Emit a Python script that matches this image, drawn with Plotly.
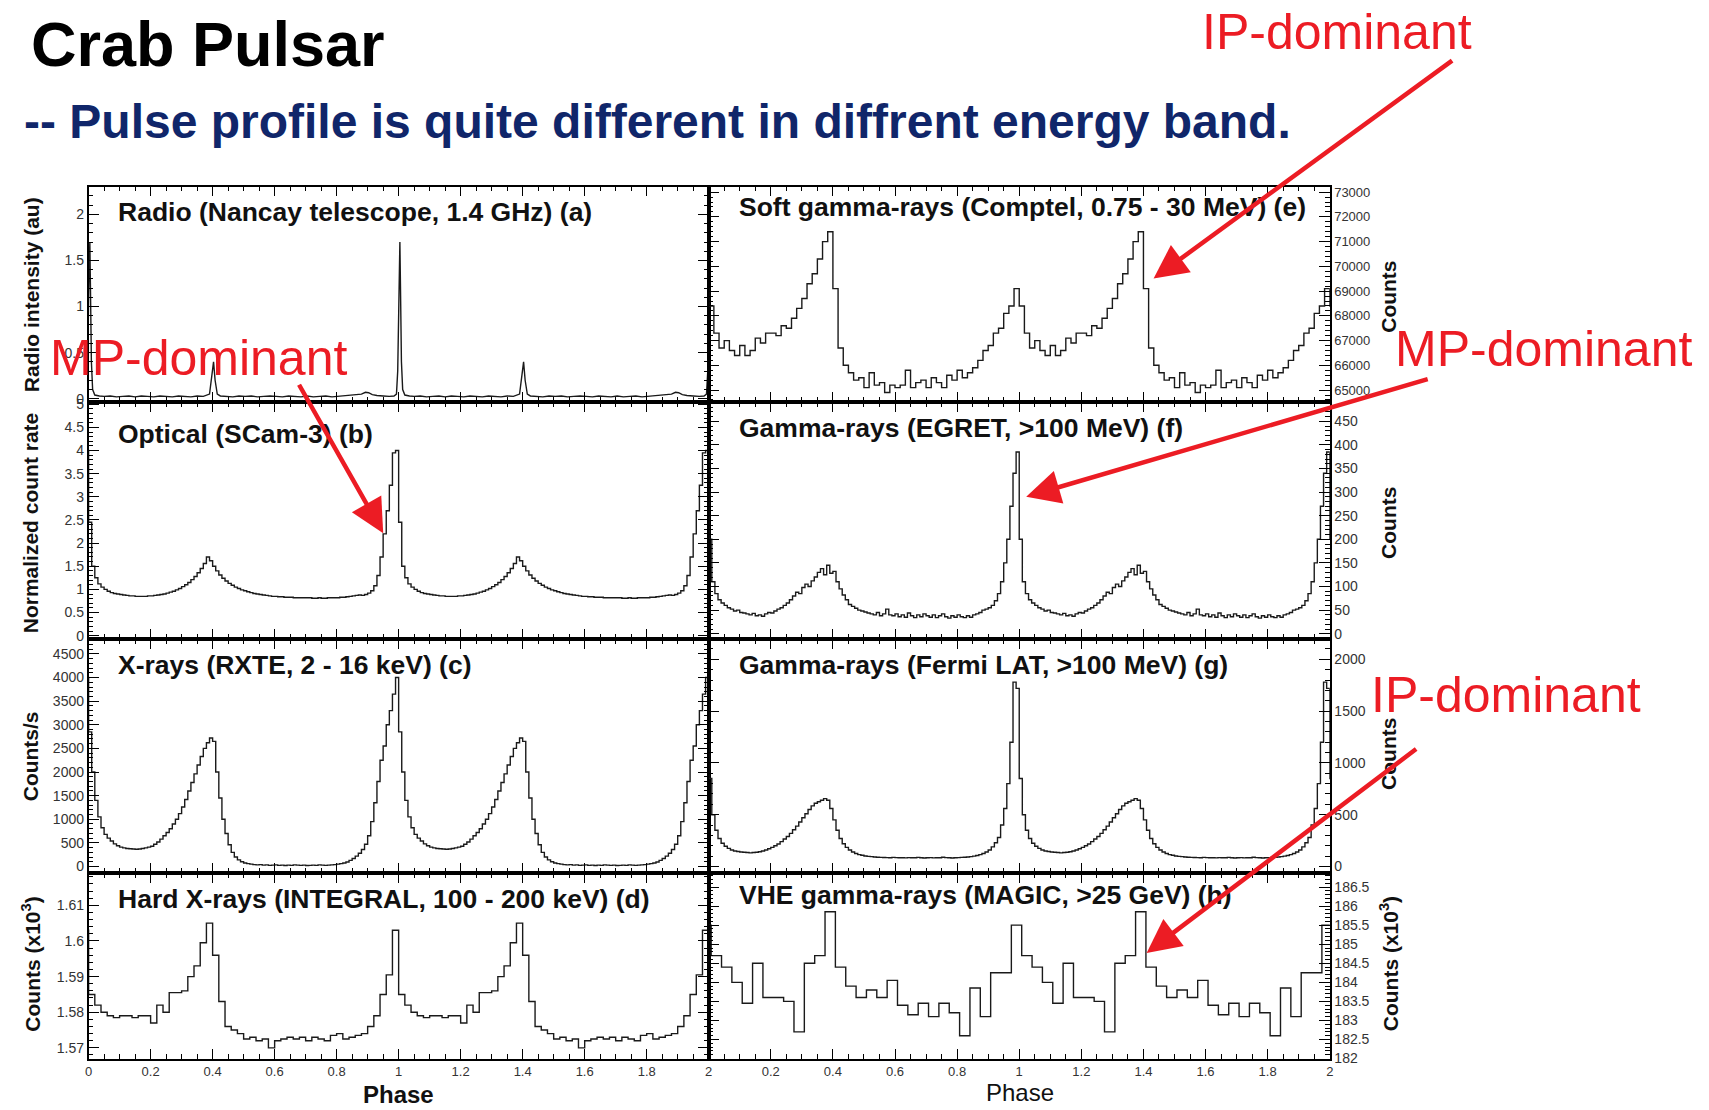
import plotly.graph_objects as go

# ---------------- data (one rotation, repeated for the two displayed cycles) ----------------
radio_phase = [0.000, 0.002, 0.004, 0.006, 0.009, 0.013, 0.020, 0.035,
               0.050, 0.070, 0.090, 0.110, 0.130, 0.150, 0.170, 0.190,
               0.210, 0.230, 0.250, 0.270, 0.290, 0.310, 0.330, 0.350,
               0.370, 0.390, 0.398, 0.403, 0.408, 0.415, 0.425, 0.445,
               0.465, 0.485, 0.505, 0.525, 0.545, 0.565, 0.585, 0.605,
               0.625, 0.645, 0.665, 0.685, 0.705, 0.725, 0.745, 0.765,
               0.785, 0.805, 0.825, 0.845, 0.865, 0.880, 0.893, 0.903,
               0.915, 0.930, 0.950, 0.970, 0.985, 0.993, 0.997]
radio_value = [1.10, 1.62, 1.70, 1.20, 0.40, 0.10, 0.04, 0.03,
               0.025, 0.03, 0.02, 0.025, 0.03, 0.02, 0.03, 0.025,
               0.02, 0.03, 0.025, 0.02, 0.03, 0.025, 0.02, 0.03,
               0.025, 0.05, 0.30, 0.40, 0.20, 0.05, 0.03, 0.025,
               0.02, 0.03, 0.025, 0.03, 0.02, 0.025, 0.03, 0.025,
               0.02, 0.03, 0.025, 0.02, 0.03, 0.02, 0.025, 0.03,
               0.02, 0.025, 0.03, 0.035, 0.04, 0.05, 0.07, 0.065,
               0.045, 0.035, 0.03, 0.025, 0.03, 0.05, 0.30]

optical_counts = [
    2.45, 1.50, 1.25, 1.12, 1.05, 1.00, 0.96, 0.93, 0.91, 0.90,
    0.89, 0.88, 0.87, 0.86, 0.86, 0.85, 0.85, 0.85, 0.85, 0.86,
    0.86, 0.87, 0.88, 0.89, 0.90, 0.92, 0.94, 0.96, 0.99, 1.02,
    1.06, 1.10, 1.15, 1.21, 1.28, 1.36, 1.45, 1.56, 1.70, 1.62,
    1.50, 1.40, 1.31, 1.24, 1.18, 1.13, 1.09, 1.05, 1.02, 0.99,
    0.97, 0.95, 0.93, 0.91, 0.90, 0.89, 0.88, 0.87, 0.86, 0.85,
    0.85, 0.84, 0.84, 0.83, 0.83, 0.83, 0.82, 0.82, 0.82, 0.82,
    0.82, 0.82, 0.81, 0.81, 0.82, 0.81, 0.81, 0.82, 0.82, 0.82,
    0.82, 0.83, 0.83, 0.84, 0.85, 0.86, 0.87, 0.88, 0.87, 0.89,
    0.92, 0.97, 1.08, 1.30, 1.70, 2.20, 2.70, 3.25, 3.95, 4.00]

xray_counts = [
    2850, 2000, 1400, 1050, 820, 680, 600, 540, 480, 440,
    410, 395, 380, 375, 370, 365, 370, 380, 395, 410,
    430, 470, 520, 580, 650, 720, 800, 900, 1000, 1120,
    1260, 1420, 1600, 1780, 1960, 2150, 2330, 2500, 2620, 2720,
    2650, 2000, 1450, 1000, 700, 460, 300, 200, 140, 100,
    75, 60, 50, 40, 35, 40, 30, 35, 25, 30,
    35, 25, 30, 20, 30, 25, 35, 30, 25, 30,
    20, 25, 30, 25, 35, 30, 25, 30, 35, 40,
    50, 60, 75, 95, 130, 170, 220, 280, 360, 470,
    650, 950, 1350, 1800, 2250, 2550, 3000, 3300, 3650, 4000]

integral_counts = [
    1.585, 1.582, 1.580, 1.579, 1.5785, 1.579, 1.579, 1.5785, 1.579, 1.579,
    1.577, 1.582, 1.580, 1.5855, 1.5855, 1.586, 1.590, 1.593, 1.5995, 1.605,
    1.596, 1.583, 1.576, 1.575, 1.574, 1.5725, 1.573, 1.572, 1.5725, 1.570,
    1.572, 1.5725, 1.573, 1.5725, 1.573, 1.572, 1.573, 1.5725, 1.572, 1.5735,
    1.574, 1.5725, 1.573, 1.5735, 1.574, 1.576, 1.579, 1.585, 1.5905, 1.603]

comptel_counts = [
    68400, 67300, 66700, 67000, 66600, 66400, 66800, 66400, 66600, 67100,
    66900, 67300, 67300, 67200, 67600, 67500, 67900, 68300, 68700, 69300,
    69700, 70300, 71000, 71400, 69100, 66700, 66000, 65700, 65400, 65500,
    65100, 65700, 65200, 65300, 64900, 65200, 65100, 65200, 65800, 65100,
    65300, 65400, 65100, 65500, 65300, 65100, 65600, 65400, 65800, 65500,
    65700, 65900, 66200, 66600, 66800, 67300, 67500, 68100, 68400, 69100]

egret_counts = [
    200, 110, 85, 72, 65, 60, 55, 52, 48, 50,
    45, 44, 42, 40, 43, 38, 40, 37, 42, 45,
    44, 48, 52, 55, 60, 65, 72, 80, 88, 85,
    98, 105, 100, 112, 120, 130, 138, 125, 145, 128,
    132, 110, 95, 82, 72, 62, 58, 54, 50, 48,
    46, 44, 42, 40, 45, 38, 42, 52, 40, 38,
    42, 36, 40, 35, 44, 38, 34, 40, 36, 42,
    38, 35, 40, 34, 38, 42, 36, 33, 38, 35,
    40, 36, 34, 38, 35, 40, 42, 45, 50, 52,
    55, 60, 70, 85, 110, 150, 200, 270, 340, 385]

fermi_counts = [
    850, 500, 350, 270, 225, 195, 175, 160, 150, 145,
    140, 138, 135, 132, 135, 138, 142, 150, 160, 172,
    185, 200, 218, 240, 265, 290, 320, 355, 390, 430,
    470, 510, 550, 585, 610, 625, 640, 655, 640, 560,
    450, 350, 270, 220, 185, 160, 140, 125, 115, 108,
    102, 98, 95, 92, 90, 88, 87, 86, 85, 88,
    86, 84, 85, 83, 86, 84, 85, 88, 84, 82,
    85, 86, 83, 85, 84, 90, 86, 84, 82, 85,
    86, 88, 90, 92, 95, 100, 106, 115, 125, 140,
    160, 190, 230, 280, 400, 560, 800, 1200, 1780, 1720]

magic_counts = [
    184.7, 184.4, 184.0, 183.45, 184.5, 183.6, 183.6, 183.5, 182.7, 184.5,
    184.7, 185.85, 184.4, 183.9, 183.6, 183.8, 183.6, 184.05, 183.4, 183.15,
    183.45, 183.1, 183.45, 183.2, 182.6, 183.85, 183.1, 184.25, 184.25, 185.5]

panel_labels = ["Radio (Nancay telescope, 1.4 GHz) (a)", "Optical (SCam-3) (b)",
                "X-rays (RXTE, 2 - 16 keV) (c)", "Hard X-rays (INTEGRAL, 100 - 200 keV) (d)",
                "Soft gamma-rays (Comptel, 0.75 - 30 MeV) (e)", "Gamma-rays (EGRET, >100 MeV) (f)",
                "Gamma-rays (Fermi LAT, >100 MeV) (g)", "VHE gamma-rays (MAGIC, >25 GeV) (h)"]
left_titles = ["Radio intensity (au)", "Normalized count rate", "Counts/s", "Counts (x10<sup>3</sup>)"]
right_titles = ["Counts", "Counts", "Counts", "Counts (x10<sup>3</sup>)"]
x_ticks = [0, 0.2, 0.4, 0.6, 0.8, 1, 1.2, 1.4, 1.6, 1.8, 2]
x_tick_text = ["0", "0.2", "0.4", "0.6", "0.8", "1", "1.2", "1.4", "1.6", "1.8", "2"]
comptel_ticks = [65000, 66000, 67000, 68000, 69000, 70000, 71000, 72000, 73000]
comptel_tick_text = ["65000", "66000", "67000", "68000", "69000", "70000", "71000", "72000", "73000"]

# ---------------- helpers ----------------
W, H = 1709, 1110
def px(x):
    return x / W
def py(y):
    return 1 - y / H

def hist_xy(values, offset=0.0):
    n = len(values)
    xs, ys = [], []
    for c in (-1, 0, 1, 2):
        for k, v in enumerate(values):
            xs.append(c + offset + k / n)
            ys.append(v)
    xs.append(3 + offset)
    ys.append(values[-1])
    return xs, ys

def curve_xy(ph, vals):
    xs, ys = [], []
    for c in (-1, 0, 1, 2):
        for p, v in zip(ph, vals):
            xs.append(c + p)
            ys.append(v)
    return xs, ys

FONT = "Liberation Sans, Arial, Helvetica, sans-serif"
RED = "#ec1c24"
LINE = "#1a1a1a"

col_x = [(85, 708), (708, 1332)]
row_y = [183, 401, 641, 878, 1066]

panels = [
    # (col,row, kind, data, offset, yrange, dtick, minor)
    (0, 0, "curve", (radio_phase, radio_value), 0, [-0.035, 2.30], 0.5, 0.1),
    (0, 1, "hist", optical_counts, 0, [-0.07, 5.05], 0.5, 0.1),
    (0, 2, "hist", xray_counts, 0, [-136, 4818], 500, 100),
    (0, 3, "hist", integral_counts, 0, [1.567, 1.6191], 0.01, 0.002),
    (1, 0, "hist", comptel_counts, 0, [64520, 73220], 1000, 200),
    (1, 1, "hist", egret_counts, 0, [-11, 491], 50, 10),
    (1, 2, "hist", fermi_counts, 0, [-62, 2197], 500, 100),
    (1, 3, "hist", magic_counts, 0.008, [182, 186.87], 0.5, 0.1),
]

fig = go.Figure()
layout = {}
for i, (col, row, kind, data, off, yr, dt, mn) in enumerate(panels):
    n = i + 1
    xname = "x" if n == 1 else f"x{n}"
    yname = "y" if n == 1 else f"y{n}"
    if kind == "curve":
        xs, ys = curve_xy(*data)
        shape = "linear"
    else:
        xs, ys = hist_xy(data, off)
        shape = "hv"
    fig.add_trace(go.Scatter(x=xs, y=ys, mode="lines", xaxis=xname, yaxis=yname,
                             line=dict(color=LINE, width=1.4, shape=shape),
                             hoverinfo="skip", showlegend=False))
    bottom = (row == 3)
    if col == 0:
        tv, tt = x_ticks, x_tick_text
    else:
        tv, tt = x_ticks[1:], x_tick_text[1:]
    xa = dict(domain=[px(col_x[col][0]), px(col_x[col][1])], range=[0, 2],
              anchor=yname, showline=True, mirror="allticks", linecolor="black",
              linewidth=1.6, ticks="inside", ticklen=10, tickwidth=1, tickcolor="black",
              tickmode="array", tickvals=tv, ticktext=tt,
              minor=dict(tickmode="linear", tick0=0, dtick=0.05, ticks="inside",
                         ticklen=5, tickwidth=1, tickcolor="black"),
              showgrid=False, zeroline=False, showticklabels=bottom,
              tickfont=dict(family=FONT, size=13, color="#333"))
    ya = dict(domain=[py(row_y[row + 1]), py(row_y[row])], range=yr, anchor=xname,
              side="left" if col == 0 else "right",
              showline=True, mirror="allticks", linecolor="black", linewidth=1.6,
              ticks="inside", ticklen=11, tickwidth=1, tickcolor="black",
              tick0=0, dtick=dt,
              minor=dict(tickmode="linear", tick0=0, dtick=mn, ticks="inside",
                         ticklen=5, tickwidth=1, tickcolor="black"),
              showgrid=False, zeroline=False, exponentformat="none", separatethousands=False,
              tickfont=dict(family=FONT, size=14, color="#333"))
    if n == 5:
        ya.update(tickmode="array", tickvals=comptel_ticks, ticktext=comptel_tick_text,
                  tickfont=dict(family=FONT, size=13, color="#333"))
    layout["xaxis" if n == 1 else f"xaxis{n}"] = xa
    layout["yaxis" if n == 1 else f"yaxis{n}"] = ya

ann = []
# panel labels
label_pos = [(113, 209), (113, 433), (113, 667), (113, 904),
             (736, 204), (736, 427), (736, 667), (736, 900)]
for txt, (lx, ly) in zip(panel_labels, label_pos):
    ann.append(dict(x=px(lx), y=py(ly), xref="paper", yref="paper", text=f"<b>{txt}</b>",
                    showarrow=False, xanchor="left", yanchor="middle",
                    font=dict(family=FONT, size=26.5, color="#111")))
# left y titles
for txt, yc in zip(left_titles, [292, 523, 760, 970]):
    ann.append(dict(x=px(27), y=py(yc), xref="paper", yref="paper", text=f"<b>{txt}</b>",
                    textangle=-90, showarrow=False, xanchor="center", yanchor="middle",
                    font=dict(family=FONT, size=21, color="#111")))
# right y titles
for txt, yc in zip(right_titles, [294, 523, 757, 970]):
    ann.append(dict(x=px(1391), y=py(yc), xref="paper", yref="paper", text=f"<b>{txt}</b>",
                    textangle=-90, showarrow=False, xanchor="center", yanchor="middle",
                    font=dict(family=FONT, size=21, color="#111")))
# x titles
ann.append(dict(x=px(396), y=py(1102), xref="paper", yref="paper", text="<b>Phase</b>",
                showarrow=False, xanchor="center", yanchor="middle",
                font=dict(family=FONT, size=24, color="#111")))
ann.append(dict(x=px(1021), y=py(1100), xref="paper", yref="paper", text="Phase",
                showarrow=False, xanchor="center", yanchor="middle",
                font=dict(family=FONT, size=24, color="#111")))
# headings
ann.append(dict(x=px(25), y=py(38), xref="paper", yref="paper", text="<b>Crab Pulsar</b>",
                showarrow=False, xanchor="left", yanchor="middle",
                font=dict(family=FONT, size=63, color="black")))
ann.append(dict(x=px(18), y=py(117), xref="paper", yref="paper",
                text="<b>-- Pulse profile is quite different in diffrent energy band.</b>",
                showarrow=False, xanchor="left", yanchor="middle",
                font=dict(family=FONT, size=48, color="#10266a")))
# red texts
for txt, (tx, ty) in [("IP-dominant", (1202, 26)), ("MP-dominant", (44, 357)),
                      ("MP-dominant", (1396, 347)), ("IP-dominant", (1371, 698))]:
    ann.append(dict(x=px(tx), y=py(ty), xref="paper", yref="paper", text=txt,
                    showarrow=False, xanchor="left", yanchor="middle",
                    font=dict(family=FONT, size=50, color=RED)))
# red arrows (head, tail) in pixels
for (hx, hy), (tx, ty) in [((1155, 276), (1455, 57)), ((381, 534), (296, 384)),
                           ((1027, 497), (1430, 379)), ((1148, 959), (1419, 754))]:
    ann.append(dict(x=px(hx), y=py(hy), xref="paper", yref="paper", text="",
                    showarrow=True, ax=tx - hx, ay=ty - hy, axref="pixel", ayref="pixel",
                    arrowhead=2, arrowsize=1.5, arrowwidth=4.5, arrowcolor=RED,
                    standoff=0, startstandoff=0))

fig.update_layout(width=W, height=H, margin=dict(l=0, r=0, t=0, b=0),
                  paper_bgcolor="white", plot_bgcolor="white", showlegend=False,
                  annotations=ann, **layout)
fig.write_html("out.html")
